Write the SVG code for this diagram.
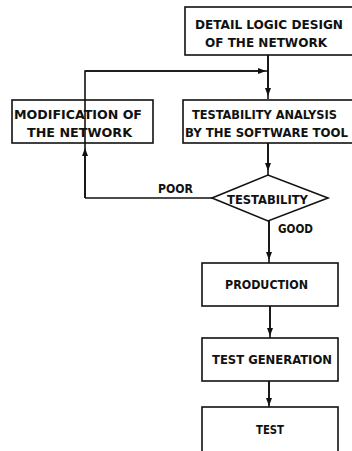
<svg xmlns="http://www.w3.org/2000/svg" width="352" height="451" viewBox="0 0 352 451">
<style>
.box{fill:none;stroke:#111;stroke-width:1.6}
.ln{fill:none;stroke:#111;stroke-width:1.6}
text{font-family:"DejaVu Sans Condensed","DejaVu Sans",sans-serif;font-weight:bold;font-size:12.5px;fill:#111}
</style>
<defs>
<marker id="ar" viewBox="0 0 8 6" refX="4" refY="3" markerWidth="8" markerHeight="6" markerUnits="userSpaceOnUse" orient="auto">
<path d="M0,0 L8,3 L0,6 z" fill="#111"/>
</marker>
</defs>
<rect width="352" height="451" fill="#fff"/>
<g id="connectors">
<path class="ln" d="M268,55 V99" />
<path class="ln" d="M268,55 V92" marker-end="url(#ar)"/>
<path class="ln" d="M85,198 V100"/>
<path class="ln" d="M85,198 V152" marker-end="url(#ar)"/>
<path class="ln" d="M85,100 V71 H268"/>
<path class="ln" d="M85,71 H262" marker-end="url(#ar)"/>
<path class="ln" d="M85,198 H212"/>
<path class="ln" d="M268,143 V175"/>
<path class="ln" d="M268,143 V167" marker-end="url(#ar)"/>
<path class="ln" d="M269,221 V263"/>
<path class="ln" d="M269,221 V256" marker-end="url(#ar)"/>
<path class="ln" d="M270,306 V338"/>
<path class="ln" d="M270,306 V332" marker-end="url(#ar)"/>
<path class="ln" d="M269,381 V407"/>
<path class="ln" d="M269,381 V402" marker-end="url(#ar)"/>
<text x="158" y="193" textLength="35" lengthAdjust="spacingAndGlyphs">POOR</text>
<text x="278" y="233" textLength="35" lengthAdjust="spacingAndGlyphs">GOOD</text>
</g>
<g id="detail">
<rect class="box" x="185" y="7" width="180" height="48"/>
<text x="195" y="29" textLength="148" lengthAdjust="spacingAndGlyphs">DETAIL LOGIC DESIGN</text>
<text x="205" y="47" textLength="122" lengthAdjust="spacingAndGlyphs">OF THE NETWORK</text>
</g>
<g id="modification">
<rect class="box" x="12" y="100" width="141" height="43"/>
<text x="14" y="119" textLength="128" lengthAdjust="spacingAndGlyphs">MODIFICATION OF</text>
<text x="27" y="137" textLength="105" lengthAdjust="spacingAndGlyphs">THE NETWORK</text>
</g>
<g id="analysis">
<rect class="box" x="183" y="100" width="180" height="43"/>
<text x="192" y="119" textLength="145" lengthAdjust="spacingAndGlyphs">TESTABILITY ANALYSIS</text>
<text x="185" y="137" textLength="163" lengthAdjust="spacingAndGlyphs">BY THE SOFTWARE TOOL</text>
</g>
<g id="decision">
<path class="box" d="M212,198 L268,175 L328,198 L268,221 Z"/>
<text x="227" y="204" textLength="81" lengthAdjust="spacingAndGlyphs">TESTABILITY</text>
</g>
<g id="production">
<rect class="box" x="202" y="263" width="136" height="43"/>
<text x="225" y="289" textLength="83" lengthAdjust="spacingAndGlyphs">PRODUCTION</text>
</g>
<g id="testgen">
<rect class="box" x="202" y="338" width="136" height="43"/>
<text x="212" y="364" textLength="120" lengthAdjust="spacingAndGlyphs">TEST GENERATION</text>
</g>
<g id="test">
<rect class="box" x="202" y="407" width="136" height="60"/>
<text x="256" y="434" textLength="28" lengthAdjust="spacingAndGlyphs">TEST</text>
</g>
</svg>
